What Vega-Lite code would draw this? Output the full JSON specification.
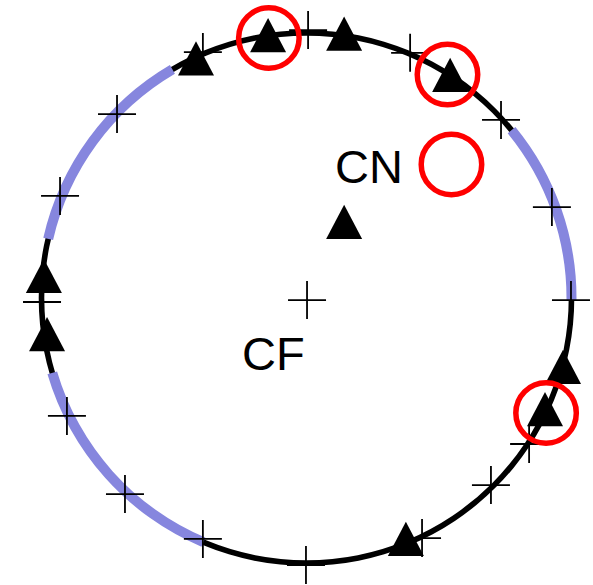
{
  "$schema": "https://vega.github.io/schema/vega-lite/v6.json",
  "width": 573,
  "height": 574,
  "autosize": {"type": "none"},
  "padding": {"left": 20, "top": 11, "right": 0, "bottom": 0},
  "background": "white",
  "config": {"view": {"stroke": null}},
  "datasets": {
    "ring": [{"part": "circle", "start": 0, "end": 360}],
    "bands": [
      {"part": "upper left", "start": 282.9, "end": 329.6},
      {"part": "upper right", "start": 50.7, "end": 90.5},
      {"part": "lower left", "start": 202.9, "end": 253.6}
    ],
    "crosses": [
      {"x": -71.5, "y": 69.4},
      {"x": -93.0, "y": 38.5},
      {"x": -39.1, "y": 92.8},
      {"x": 0.6, "y": 101.1},
      {"x": 39.1, "y": 92.5},
      {"x": 73.4, "y": 67.2},
      {"x": 92.6, "y": 34.3},
      {"x": 99.8, "y": -0.8},
      {"x": 84.0, "y": -55.1},
      {"x": 69.6, "y": -70.6},
      {"x": 43.6, "y": -90.6},
      {"x": -0.2, "y": -100.8},
      {"x": -39.1, "y": -90.9},
      {"x": -68.5, "y": -74.0},
      {"x": -90.4, "y": -44.5},
      {"x": -99.8, "y": -1.5},
      {"x": 0.2, "y": -0.8}
    ],
    "triangles": [
      {"x": -41.7, "y": 90.4},
      {"x": -14.5, "y": 99.2},
      {"x": 14.2, "y": 99.8},
      {"x": 54.2, "y": 84.2},
      {"x": 14.2, "y": 28.7},
      {"x": 96.8, "y": -26.0},
      {"x": 90.0, "y": -41.9},
      {"x": 37.5, "y": -90.9},
      {"x": -99.1, "y": 8.3},
      {"x": -97.9, "y": -13.6}
    ],
    "circled": [
      {"x": -14.2, "y": 98.1},
      {"x": 53.2, "y": 84.3},
      {"x": 54.7, "y": 50.4},
      {"x": 90.4, "y": -43.4}
    ],
    "labels": [
      {"label": "CN", "x": 23.6, "y": 43.4},
      {"label": "CF", "x": -12.5, "y": -27.2}
    ]
  },
  "layer": [
    {
      "data": {"name": "ring"},
      "mark": {"type": "arc", "innerRadius": 262.2, "outerRadius": 267.8, "color": "black"},
      "encoding": {
        "theta": {"field": "start", "type": "quantitative", "stack": null, "scale": {"domain": [0, 360], "range": [0, 6.283185307179586]}},
        "theta2": {"field": "end"}
      }
    },
    {
      "data": {"name": "bands"},
      "mark": {"type": "arc", "innerRadius": 260, "outerRadius": 270, "color": "#8686de"},
      "encoding": {
        "theta": {"field": "start", "type": "quantitative", "stack": null, "scale": {"domain": [0, 360], "range": [0, 6.283185307179586]}},
        "theta2": {"field": "end"}
      }
    },
    {
      "data": {"name": "crosses"},
      "mark": {"type": "point", "shape": "M-1,0H1M0,-1V1", "size": 1444, "filled": false, "stroke": "black", "strokeWidth": 1.8, "opacity": 1},
      "encoding": {
        "x": {"field": "x", "type": "quantitative", "axis": null, "scale": {"domain": [-108.11, 108.11], "nice": false, "zero": false}},
        "y": {"field": "y", "type": "quantitative", "axis": null, "scale": {"domain": [-108.3, 108.3], "nice": false, "zero": false}}
      }
    },
    {
      "data": {"name": "triangles"},
      "mark": {"type": "point", "shape": "M0,-0.95L1,0.95L-1,0.95Z", "size": 1296, "filled": true, "color": "black", "opacity": 1},
      "encoding": {
        "x": {"field": "x", "type": "quantitative"},
        "y": {"field": "y", "type": "quantitative"}
      }
    },
    {
      "data": {"name": "circled"},
      "mark": {"type": "point", "shape": "circle", "size": 3660, "filled": false, "stroke": "#ff0000", "strokeWidth": 5.5, "opacity": 1},
      "encoding": {
        "x": {"field": "x", "type": "quantitative"},
        "y": {"field": "y", "type": "quantitative"}
      }
    },
    {
      "data": {"name": "labels"},
      "mark": {"type": "text", "font": "Liberation Sans", "fontSize": 47, "align": "center", "baseline": "alphabetic", "color": "black"},
      "encoding": {
        "x": {"field": "x", "type": "quantitative"},
        "y": {"field": "y", "type": "quantitative"},
        "text": {"field": "label"}
      }
    }
  ]
}
